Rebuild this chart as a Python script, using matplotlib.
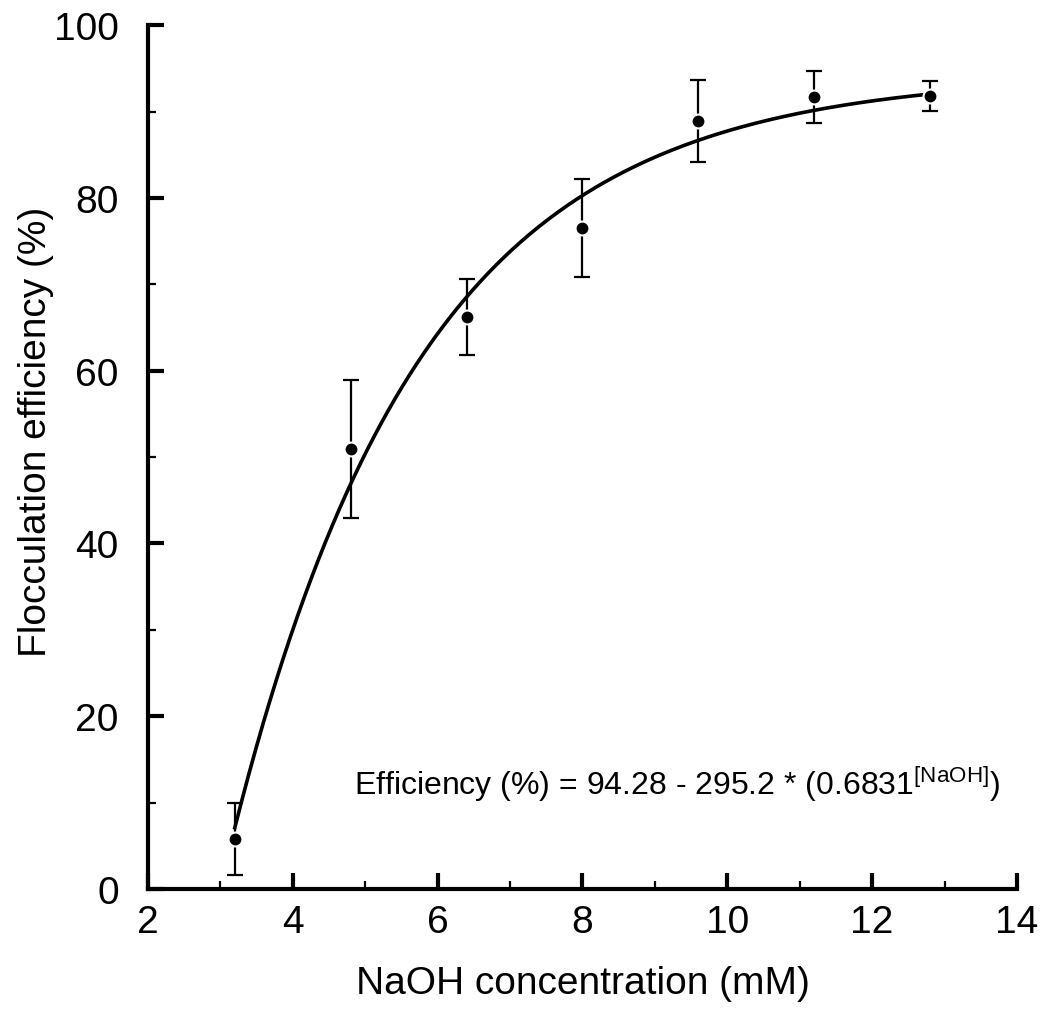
import numpy as np
import matplotlib
matplotlib.use('Agg')
import matplotlib.pyplot as plt
from matplotlib.ticker import MultipleLocator

plt.rcParams['font.family'] = ['Liberation Sans', 'DejaVu Sans']
plt.rcParams['mathtext.fontset'] = 'custom'
plt.rcParams['mathtext.rm'] = 'Liberation Sans'

# measured data
naoh = [3.2, 4.8, 6.4, 8.0, 9.6, 11.2, 12.8]
efficiency = [5.8, 50.9, 66.2, 76.5, 88.9, 91.7, 91.8]
err = [4.2, 8.0, 4.4, 5.7, 4.7, 3.0, 1.7]

# fitted model: Efficiency = a - b * c**[NaOH]
fit_a = 94.28
fit_b = 295.2
fit_c = 0.6831

def main():
    fig = plt.figure(figsize=(10.49, 10.12), dpi=100)
    ax = fig.add_axes([0.141, 0.1206, 0.8285, 0.8535])

    xf = np.linspace(naoh[0], naoh[-1], 300)
    ax.plot(xf, fit_a - fit_b * fit_c ** xf, color='black', lw=2.6, zorder=2)
    ax.errorbar(naoh, efficiency, yerr=err, fmt='none', ecolor='black',
                elinewidth=1.6, capsize=5.5, capthick=1.6, zorder=3)
    ax.plot(naoh, efficiency, 'o', color='black', ms=10, mec='white', mew=1.5, zorder=4)

    ax.set_xlim(2, 14)
    ax.set_ylim(0, 100)
    ax.xaxis.set_major_locator(MultipleLocator(2))
    ax.xaxis.set_minor_locator(MultipleLocator(1))
    ax.yaxis.set_major_locator(MultipleLocator(20))
    ax.yaxis.set_minor_locator(MultipleLocator(10))

    for s in ['top', 'right']:
        ax.spines[s].set_visible(False)
    for s in ['left', 'bottom']:
        ax.spines[s].set_linewidth(3)
        ax.spines[s].set_capstyle('projecting')
    ax.tick_params(which='major', direction='in', length=11.5, width=3,
                   labelsize=28)
    ax.tick_params(axis='x', which='major', pad=11)
    ax.tick_params(axis='y', which='major', pad=21)
    ax.tick_params(which='minor', direction='in', length=6, width=1.6)

    ax.set_xlabel('NaOH concentration (mM)', fontsize=28, labelpad=18)
    ax.set_ylabel('Flocculation efficiency (%)', fontsize=28)
    ax.yaxis.set_label_coords(-0.108, 0.53)

    ax.text(9.3, 12.3, r'Efficiency (%) = 94.28 - 295.2 * (0.6831$^{\mathregular{[NaOH]}}$)',
            fontsize=23, ha='center', va='center')

    fig.savefig('out.png', dpi=100)

if __name__ == "__main__":
    main()
